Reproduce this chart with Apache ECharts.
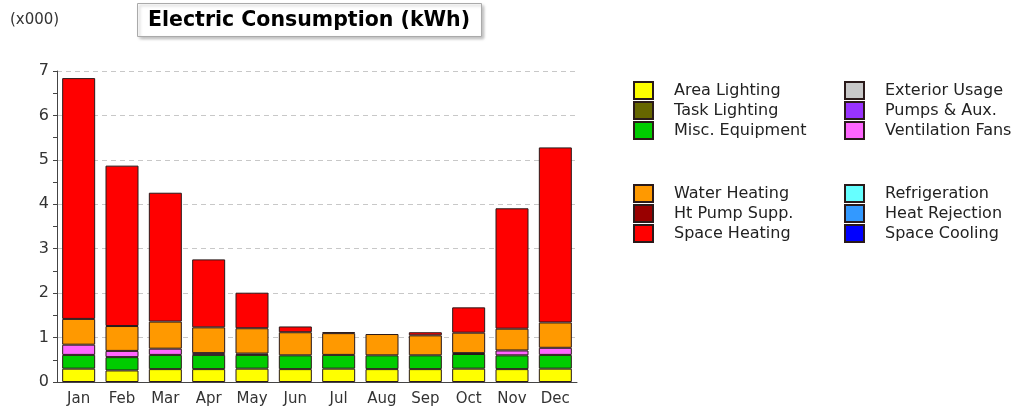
<!DOCTYPE html>
<html>
<head>
<meta charset="utf-8">
<script src="https://cdn.jsdelivr.net/npm/echarts@6/dist/echarts.min.js"></script>
<style>
  html, body { margin: 0; padding: 0; background: #fff; }
  #chart { width: 1014px; height: 412px; }
</style>
</head>
<body>
<div id="chart"></div>
<script>
// months on the x axis
var months = ['Jan', 'Feb', 'Mar', 'Apr', 'May', 'Jun', 'Jul', 'Aug', 'Sep', 'Oct', 'Nov', 'Dec']

// values in thousands of kWh (bottom to top of each stack)
var areaLighting = [0.30, 0.26, 0.29, 0.29, 0.30, 0.29, 0.30, 0.29, 0.29, 0.30, 0.29, 0.30]
var taskLighting = [0, 0, 0, 0, 0, 0, 0, 0, 0, 0, 0, 0]
var miscEquipment = [0.31, 0.30, 0.32, 0.32, 0.31, 0.31, 0.31, 0.31, 0.31, 0.33, 0.31, 0.31]
var exteriorUsage = [0, 0, 0, 0, 0, 0, 0, 0, 0, 0, 0, 0]
var pumpsAux = [0, 0, 0, 0, 0, 0, 0, 0, 0, 0, 0, 0]
var ventilationFans = [0.23, 0.14, 0.14, 0.04, 0.03, 0, 0, 0, 0, 0.02, 0.11, 0.16]
var waterHeating = [0.58, 0.56, 0.61, 0.58, 0.57, 0.52, 0.49, 0.48, 0.45, 0.46, 0.49, 0.57]
var htPumpSupp = [0, 0, 0, 0, 0, 0, 0, 0, 0, 0, 0, 0]
var spaceHeating = [5.42, 3.61, 2.90, 1.53, 0.80, 0.13, 0.02, 0, 0.07, 0.57, 2.71, 3.94]
var refrigeration = [0, 0, 0, 0, 0, 0, 0, 0, 0, 0, 0, 0]
var heatRejection = [0, 0, 0, 0, 0, 0, 0, 0, 0, 0, 0, 0]
var spaceCooling = [0, 0, 0, 0, 0, 0, 0, 0, 0, 0, 0, 0]

var yTicks = [0, 1, 2, 3, 4, 5, 6, 7]

var font = 'DejaVu Sans, Verdana, sans-serif'

// legend columns / groups
var groups = [
  { left: 628, top: 76, names: ['Area Lighting', 'Task Lighting', 'Misc. Equipment'] },
  { left: 839, top: 76, names: ['Exterior Usage', 'Pumps & Aux.', 'Ventilation Fans'] },
  { left: 628, top: 179, names: ['Water Heating', 'Ht Pump Supp.', 'Space Heating'] },
  { left: 839, top: 179, names: ['Refrigeration', 'Heat Rejection', 'Space Cooling'] }
]

function mkSeries (name, data, color) {
  return {
    name: name,
    type: 'bar',
    stack: 'total',
    barWidth: 33,
    data: data.map(function (v) { return v === 0 ? '-' : v }),
    itemStyle: { color: color, borderColor: '#2a1a1a', borderWidth: 1 },
    emphasis: { disabled: true }
  }
}

var chart = echarts.init(document.getElementById('chart'))
chart.setOption({
  animation: false,
  textStyle: { fontFamily: font },
  title: [{
    text: 'Electric Consumption (kWh)',
    left: 137,
    top: 3,
    padding: [7, 12, 5, 11],
    borderColor: '#aaa',
    borderWidth: 1,
    shadowColor: 'rgba(0,0,0,0.25)',
    shadowBlur: 3,
    shadowOffsetX: 2,
    shadowOffsetY: 2,
    backgroundColor: '#fff',
    textStyle: { fontFamily: font, fontSize: 20.5, fontWeight: 'bold', color: '#000', lineHeight: 22 }
  }, {
    text: '(x000)',
    left: 5,
    top: 8,
    textStyle: { fontFamily: font, fontSize: 15, fontWeight: 'normal', color: '#333' }
  }],
  legend: groups.map(function (g) {
    return {
      data: g.names,
      orient: 'vertical',
      left: g.left,
      top: g.top,
      icon: 'rect',
      itemWidth: 19,
      itemHeight: 17,
      itemGap: 1,
      selectedMode: false,
      textStyle: { fontFamily: font, fontSize: 16, color: '#222', padding: [0, 0, 0, 16] }
    }
  }),
  grid: { left: 57, right: 437, top: 71, bottom: 30 },
  xAxis: {
    type: 'category',
    data: months,
    axisLine: { lineStyle: { color: '#444' } },
    axisTick: { alignWithLabel: true, length: 4, lineStyle: { color: '#444' } },
    axisLabel: { fontFamily: font, fontSize: 15, color: '#333', margin: 10 }
  },
  yAxis: {
    type: 'value',
    min: yTicks[0],
    max: yTicks[yTicks.length - 1],
    interval: 1,
    axisLine: { show: true, lineStyle: { color: '#444' } },
    axisTick: { show: true, length: 4, lineStyle: { color: '#444' } },
    minorTick: { show: true, splitNumber: 2, length: 4, lineStyle: { color: '#444' } },
    axisLabel: { fontFamily: font, fontSize: 16, color: '#333', margin: 8 },
    splitLine: { lineStyle: { color: '#c8c8c8', type: [5, 4] } }
  },
  series: [
    mkSeries('Area Lighting', areaLighting, '#ffff00'),
    mkSeries('Task Lighting', taskLighting, '#666600'),
    mkSeries('Misc. Equipment', miscEquipment, '#00cc00'),
    mkSeries('Exterior Usage', exteriorUsage, '#c8c8c8'),
    mkSeries('Pumps & Aux.', pumpsAux, '#9933ff'),
    mkSeries('Ventilation Fans', ventilationFans, '#ff66ff'),
    mkSeries('Water Heating', waterHeating, '#ff9900'),
    mkSeries('Ht Pump Supp.', htPumpSupp, '#990000'),
    mkSeries('Space Heating', spaceHeating, '#ff0000'),
    mkSeries('Refrigeration', refrigeration, '#66ffff'),
    mkSeries('Heat Rejection', heatRejection, '#3399ff'),
    mkSeries('Space Cooling', spaceCooling, '#0000ff')
  ]
})
</script>
</body>
</html>
